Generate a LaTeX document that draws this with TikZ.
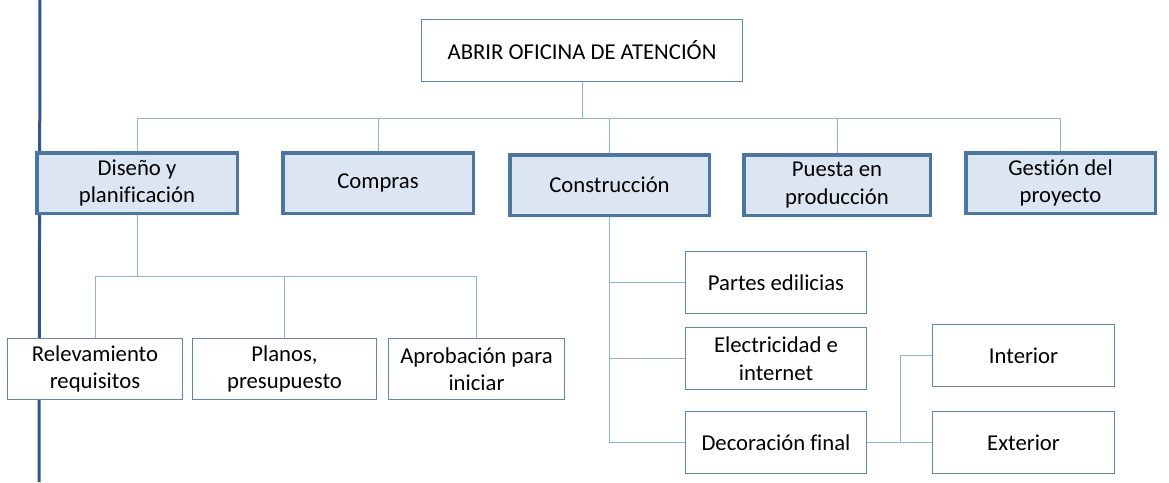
\documentclass[tikz,border=0pt]{standalone}
\usepackage{fontspec}
\setmainfont{Carlito}[Ligatures=NoCommon]
\definecolor{thinb}{HTML}{5F86B8}
\definecolor{thickb}{HTML}{4A76A6}
\definecolor{fillb}{HTML}{DCE6F2}
\definecolor{connb}{HTML}{8FB2DC}
\definecolor{leftb}{HTML}{2F5597}
\begin{document}
\begin{tikzpicture}[x=1pt,y=-1pt,
  box/.style={draw=thinb, line width=1.3pt, fill=white, inner sep=0pt, align=center,
    font=\fontsize{22.7}{27.5}\selectfont, minimum height=61.7pt},
  mainbox/.style={draw=thickb, line width=3.5pt, fill=fillb, inner sep=0pt, align=center,
    font=\fontsize{22.7}{27.5}\selectfont, minimum height=60.5pt},
  conn/.style={draw=connb, line width=1pt},
  leftline/.style={draw=leftb, line width=3pt}]
\useasboundingbox (0,0) rectangle (1169,482);
\draw[leftline] (40,0) -- (39,482);
% top
\node[box, minimum width=321pt, minimum height=62pt] (top) at (582,50.5) {ABRIR OFICINA DE ATENCIÓN};
% level 2
\node[mainbox, minimum width=200.5pt] (dis) at (137,183) {Diseño y\\planificación};
\node[mainbox, minimum width=190.5pt] (com) at (378,183) {Compras};
\node[mainbox, minimum width=199.5pt] (con) at (609.5,185) {Construcción};
\node[mainbox, minimum width=186.5pt] (pue) at (837,185) {Puesta en\\producción};
\node[mainbox, minimum width=189.5pt] (ges) at (1060.5,183) {Gestión del\\proyecto};
% level 3 under Diseño
\node[box, minimum width=174.7pt, minimum height=60.7pt] (rel) at (95,369) {Relevamiento\\requisitos};
\node[box, minimum width=183.7pt, minimum height=60.7pt] (pla) at (284.5,369) {Planos,\\presupuesto};
\node[box, minimum width=175.7pt, minimum height=60.7pt] (apr) at (476.5,369) {Aprobación para\\iniciar};
% level 3 under Construcción
\node[box, minimum width=180.7pt] (par) at (776,282.5) {Partes edilicias};
\node[box, minimum width=180.7pt] (ele) at (776,358.5) {Electricidad e\\internet};
\node[box, minimum width=180.7pt] (dec) at (776,442.5) {Decoración final};
% level 4
\node[box, minimum width=181.7pt] (int) at (1023.5,355.5) {Interior};
\node[box, minimum width=181.7pt] (ext) at (1023.5,442.5) {Exterior};
% connectors
\coordinate (j1) at (582,118);
\draw[conn] (top.south) -- (j1);
\draw[conn] (j1) -| (dis.north);
\draw[conn] (j1) -| (com.north);
\draw[conn] (j1) -| (con.north);
\draw[conn] (j1) -| (pue.north);
\draw[conn] (j1) -| (ges.north);
\coordinate (j2) at (137,276.5);
\draw[conn] (dis.south) -- (j2);
\draw[conn] (j2) -| (rel.north);
\draw[conn] (j2) -| (pla.north);
\draw[conn] (j2) -| (apr.north);
\draw[conn] (con.south) |- (par.west);
\draw[conn] (con.south) |- (ele.west);
\draw[conn] (con.south) |- (dec.west);
\coordinate (j3) at (900,442.5);
\draw[conn] (dec.east) -- (ext.west);
\draw[conn] (j3) |- (int.west);
\end{tikzpicture}
\end{document}
